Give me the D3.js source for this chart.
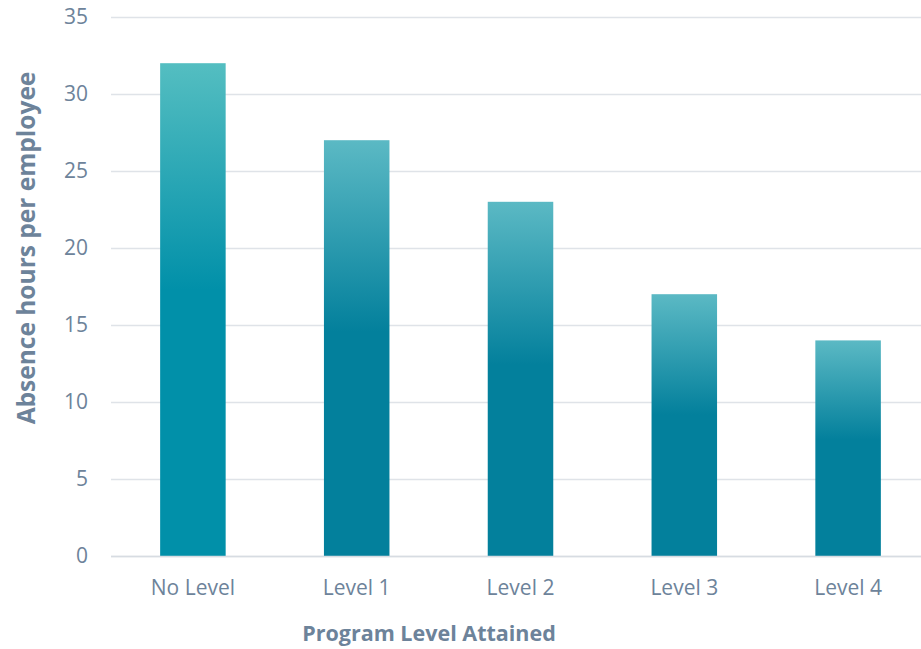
<!DOCTYPE html>
<html>
<head>
<meta charset="utf-8">
<script src="https://cdn.jsdelivr.net/npm/d3@7"></script>
<style>
  html, body { margin: 0; padding: 0; background: #ffffff; }
  svg { display: block; font-family: "Open Sans", sans-serif; }
</style>
</head>
<body>
<svg id="chart" width="921" height="649"></svg>
<script>
// Absence hours by program level attained
const categories = ["No Level", "Level 1", "Level 2", "Level 3", "Level 4"];
const absenceHours = [32, 27, 23, 17, 14];
const yTicks = [0, 5, 10, 15, 20, 25, 30, 35];
const barTopColors = ["#54bec1", "#5bb9c4", "#5bb9c4", "#5bb9c4", "#5bb9c4"];
const barBaseColors = ["#0190a9", "#03809c", "#03809c", "#03809c", "#03809c"];

const W = 921, H = 649;
const svg = d3.select("#chart");
const textColor = "#6d839a";
const font = "'Open Sans', sans-serif";

const x = d3.scaleBand().domain(categories).range([111, 930]).paddingInner(0.6).paddingOuter(0.3);
const y = d3.scaleLinear().domain([0, 35]).range([556, 17]);

// per-bar vertical gradients
const defs = svg.append("defs");
categories.forEach((c, i) => {
  const g = defs.append("linearGradient")
    .attr("id", "grad" + i)
    .attr("x1", 0).attr("y1", 0).attr("x2", 0).attr("y2", 1);
  g.append("stop").attr("offset", "0%").attr("stop-color", barTopColors[i]);
  g.append("stop").attr("offset", "46%").attr("stop-color", barBaseColors[i]);
  g.append("stop").attr("offset", "100%").attr("stop-color", barBaseColors[i]);
});

// horizontal gridlines
const yAxis = d3.axisLeft(y).tickValues(yTicks).tickSize(-(W - 111)).tickPadding(23);
const gy = svg.append("g").attr("transform", "translate(111,0)").call(yAxis)
  .attr("font-family", font);
gy.select(".domain").remove();
gy.selectAll(".tick line").attr("stroke", "#dfe3e8").attr("stroke-width", 1.5);
gy.selectAll(".tick text")
  .attr("fill", textColor).attr("font-size", "21px");

// bars
svg.append("g").selectAll("rect")
  .data(absenceHours)
  .join("rect")
  .attr("x", (d, i) => x(categories[i]))
  .attr("y", d => y(d))
  .attr("width", x.bandwidth())
  .attr("height", d => y(0) - y(d))
  .attr("fill", (d, i) => `url(#grad${i})`);

// category axis baseline and labels
svg.append("line")
  .attr("x1", 111).attr("x2", W).attr("y1", y(0) + 0.5).attr("y2", y(0) + 0.5)
  .attr("stroke", "#d7dce2").attr("stroke-width", 1.5);

const xAxis = d3.axisBottom(x).tickSize(0).tickPadding(24);
const gx = svg.append("g").attr("transform", `translate(0,${y(0)})`).call(xAxis)
  .attr("font-family", font);
gx.select(".domain").remove();
gx.selectAll(".tick text").attr("fill", textColor).attr("font-size", "21px");

// axis titles
svg.append("text")
  .attr("x", 429).attr("y", 641)
  .attr("text-anchor", "middle")
  .attr("fill", textColor).attr("font-weight", "bold").attr("font-size", "21.5px")
  .text("Program Level Attained");

svg.append("text")
  .attr("transform", "translate(35,248) rotate(-90)")
  .attr("text-anchor", "middle")
  .attr("fill", textColor).attr("font-weight", "bold").attr("font-size", "24.5px")
  .text("Absence hours per employee");
</script>
</body>
</html>
